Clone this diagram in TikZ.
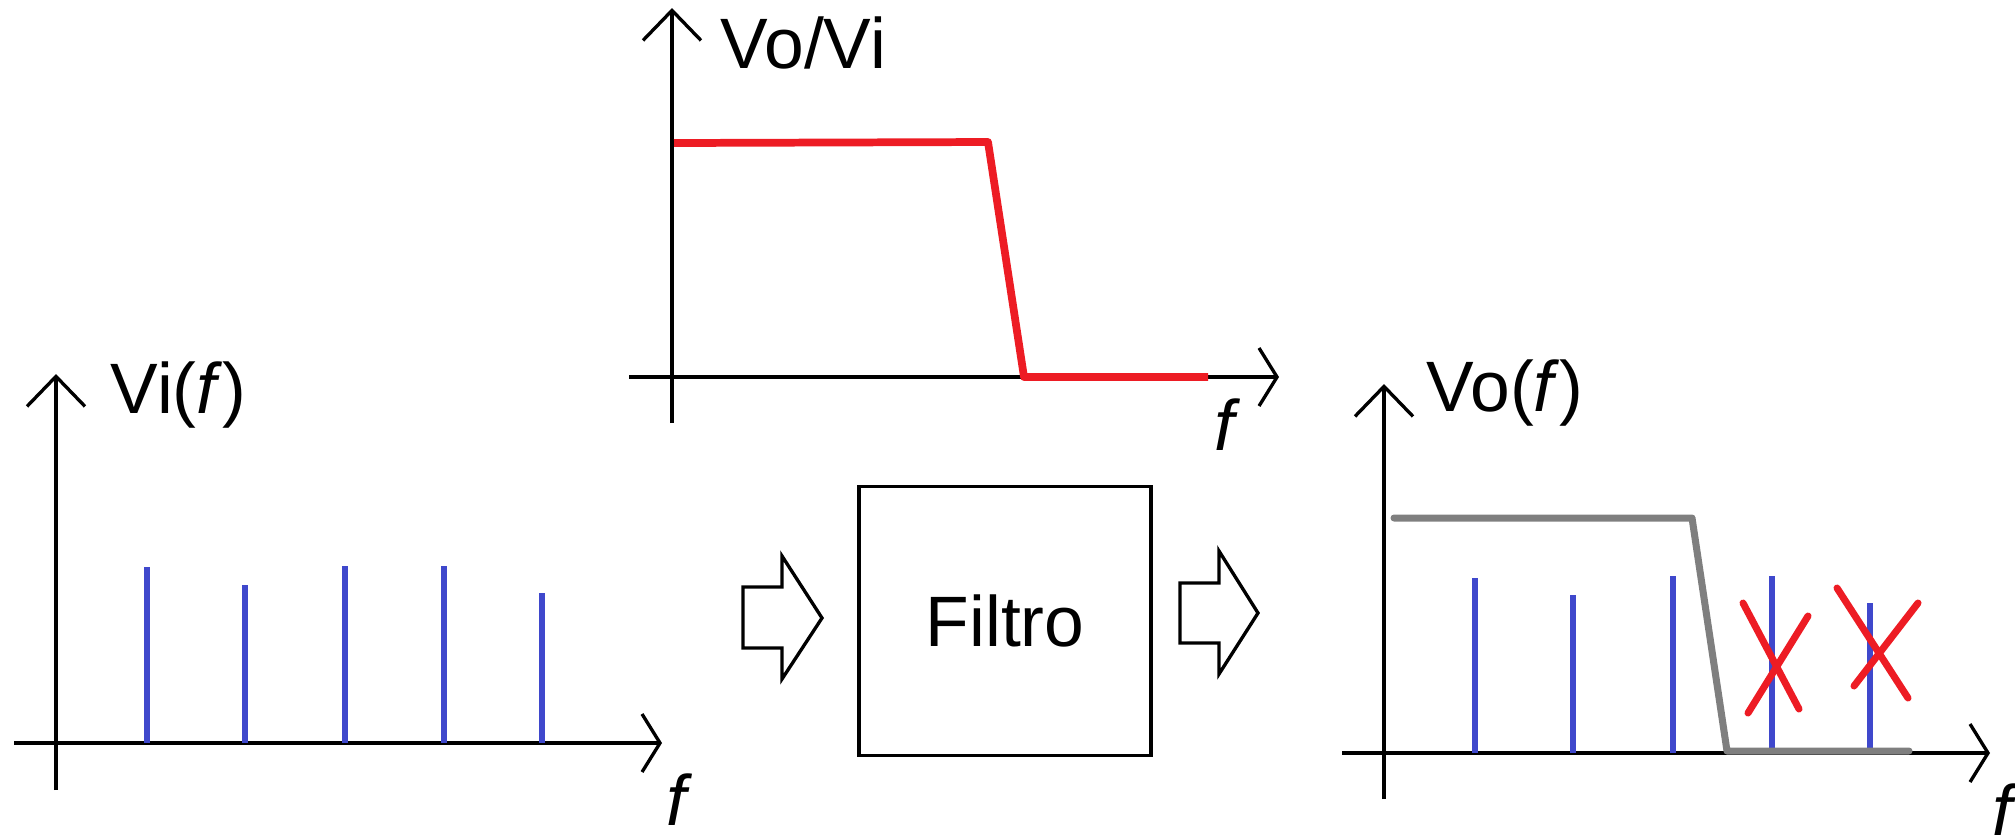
\documentclass[tikz,border=0pt]{standalone}
\usepackage{fontspec}
\setmainfont{Liberation Sans}
\usepackage{tikz}
\usetikzlibrary{
	arrows.meta,
	positioning,
	calc
}
\definecolor{specblue}{RGB}{63,72,204}
\definecolor{passred}{RGB}{237,28,36}
\definecolor{passgray}{RGB}{127,127,127}

\begin{document}
\begin{tikzpicture}[
				x=0.01cm, y=-0.01cm,
				yaxis/.style={
					line width=0.95pt,
					-{Straight Barb[length=0.30cm, width=0.58cm]}
				},
				xaxis/.style={
					line width=0.95pt,
					-{Straight Barb[length=0.18cm, width=0.58cm]}
				},
				label/.style={
					inner sep=0, anchor=base west,
					font=\fontsize{20.3}{24}\selectfont
				},
				stem/.style={line width=1.75pt, draw=specblue},
				redcurve/.style={line width=2.2pt, draw=passred, line join=round},
				graycurve/.style={line width=2.0pt, draw=passgray, line join=round, line cap=round},
				cross/.style={line width=2.0pt, draw=passred, line cap=round},
				filterbox/.style={
					rectangle, draw, line width=1.0pt,
					minimum width=2.92cm, minimum height=2.69cm,
					font=\fontsize{20.3}{24}\selectfont
				},
				bigarrow/.style={draw, line width=0.95pt, line join=miter},
				]
				
				\useasboundingbox (0,0) rectangle (2015,835);
				
				%input spectrum
				\coordinate (inO) at (56,743);
				\draw[yaxis] (inO |- 0,790) -- (inO |- 0,374);
				\draw[xaxis] (14,743) -- (662,743);
				\node[label] (vilabel) at (110,413) {Vi(\textit{f})};
				\node[label] (vif) at (666,825) {\textit{f}};
				\foreach \x/\h in {147/567, 245/585, 345/566, 444/566, 542/593}
					\draw[stem] (\x,743) -- (\x,\h);
				
				%filter response
				\coordinate (hO) at (672,377);
				\draw[yaxis] (hO |- 0,423) -- (hO |- 0,8);
				\draw[xaxis] (629,377) -- (1279,377);
				\node[label] (hlabel) at (720,68) {Vo/Vi};
				\node[label] (hf) at (1214,450) {\textit{f}};
				\draw[redcurve] (674,143) -- (988,142) -- (1024,377) -- (1208,377);
				
				%filter block
				\node[filterbox] (filtro) at (1005,621) {Filtro};
				
				\draw[bigarrow] (743,587) -- (782,587) -- (782,556) -- (822,618)
					-- (782,679) -- (782,648) -- (743,648) -- cycle;
				\draw[bigarrow] (1180,583) -- (1219,583) -- (1219,551) -- (1258,613)
					-- (1219,674) -- (1219,643) -- (1180,643) -- cycle;
				
				%output spectrum
				\coordinate (outO) at (1384,753);
				\draw[yaxis] (outO |- 0,799) -- (outO |- 0,384);
				\draw[xaxis] (1342,753) -- (1990,753);
				\node[label] (volabel) at (1426,411) {Vo(\textit{f})};
				\node[label] (vof) at (1992,835) {\textit{f}};
				\foreach \x/\h/\b in {1475/578/753, 1573/595/753, 1673/576/753, 1772/576/748, 1870/603/748}
					\draw[stem] (\x,\b) -- (\x,\h);
				\draw[graycurve] (1394,518) -- (1692,518) -- (1727,751) -- (1909,751);
				
				\draw[cross] (1743,603) -- (1799,709);
				\draw[cross] (1748,713) -- (1808,616);
				\draw[cross] (1837,588) -- (1908,698);
				\draw[cross] (1854,686) -- (1918,603);
			\end{tikzpicture}
\end{document}
